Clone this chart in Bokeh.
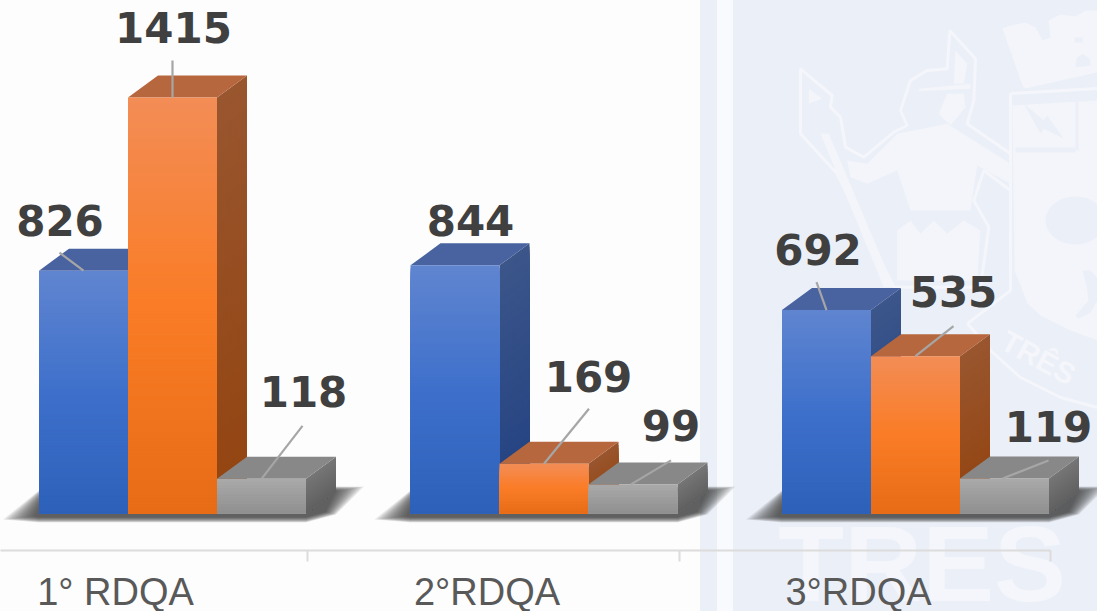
from urllib.parse import quote
from bokeh.embed import file_html
from bokeh.resources import INLINE
from bokeh.plotting import figure
from bokeh.models import Range1d, FixedTicker
from bokeh.core.properties import value

# ---------- data ----------
categories = ["1° RDQA", "2°RDQA", "3°RDQA"]
series_blue = [826, 844, 692]
series_orange = [1415, 169, 535]
series_grey = [118, 99, 119]

# ---------- layout (px) ----------
W, H = 1097, 611
FRAME_H = 550
BASE_PY = 513
PX_PER_UNIT = 0.294
GROUP_PX0 = 172
GROUP_STEP = 371.5
BAR_PX = 89
DEPTH_X, DEPTH_Y = 30, 22

def xd(px): return 1 + (px - GROUP_PX0) / GROUP_STEP
def yd(py): return (BASE_PY - py) / PX_PER_UNIT
def dxu(px): return px / GROUP_STEP
def dyu(px): return px / PX_PER_UNIT

BAND = "#ebeff7"
PAGE = "#fdfdfd"
WM = "#f3f5fa"
WM_LINE = "#f4f6fb"
# page background: pale bands, and the big watermark word that runs under the axis
wm_svg = (f'<svg xmlns="http://www.w3.org/2000/svg" width="{W}" height="{H}">'
          f'<text x="778" y="601" font-family="Liberation Sans" font-weight="bold" '
          f'font-size="108" fill="{WM_LINE}">TRES</text></svg>')
bg_css = (f"url(\"data:image/svg+xml,{quote(wm_svg)}\") no-repeat 0 0, "
          f"linear-gradient(to right, {PAGE} 0, {PAGE} 700px, {BAND} 700px, {BAND} 717px, "
          f"#f9fafd 717px, #f9fafd 733px, {BAND} 733px, {BAND} 100%)")

p = figure(width=W, height=H, frame_height=FRAME_H, frame_width=W,
           output_backend="svg", toolbar_location=None,
           x_range=Range1d(xd(0), xd(W)), y_range=Range1d(yd(FRAME_H), yd(0)),
           min_border=0, min_border_bottom=H - FRAME_H, tools="",
           styles={"background": bg_css})
p.grid.visible = False
p.yaxis.visible = False
p.outline_line_color = None
p.background_fill_color = None
p.border_fill_color = None

# ---------- watermark ----------
def wm_px(pts, fill=WM, line=None, lw=0):
    p.patch([xd(a) for a, b in pts], [yd(b) for a, b in pts],
            fill_color=fill, line_color=line, line_width=lw)
def wm_patch(pts, fill=WM, line=None, lw=0):
    # zoomed-crop coordinates: px = 680 + z/3, py = z/3
    wm_px([(680 + a / 3, b / 3) for a, b in pts], fill, line, lw)
def wm_line(pts, lw=3):
    p.line([xd(a) for a, b in pts], [yd(b) for a, b in pts], line_color=WM_LINE, line_width=lw)

warrior_outline = [(360,205),(455,285),(450,320),(480,350),(495,440),(550,470),(640,395),(680,375),
                   (660,330),(690,240),(740,210),(800,205),(808,90),(885,175),(880,300),(860,370),
                   (990,460),(990,570),(910,510),(880,600),(925,680),(900,860),(640,860),(600,780),
                   (470,520),(360,400)]
wm_patch(warrior_outline, fill=BAND, line=WM_LINE, lw=3)
wm_patch([(500,480),(560,490),(650,400),(800,370),(990,490),(990,550),(890,495),(870,630),(690,630),(650,510),(560,550),(510,530)])
wm_patch([(775,340),(800,280),(850,280),(855,320),(810,375)])
wm_patch([(715,265),(870,250),(870,265),(715,272)])
wm_patch([(825,150),(860,190),(850,250),(820,250)])
wm_patch([(385,265),(425,295),(385,310)])
wm_patch([(650,690),(690,660),(720,700),(760,660),(800,700),(850,660),(900,690),(890,840),(650,840)])
# spear shaft
wm_patch([(420,400),(445,400),(640,860),(610,860)])
# crown
wm_px([(1002,28),(1010,25),(1025,22),(1035,27),(1042,40),(1050,37),(1048,20),(1060,14),(1075,16),
       (1085,10),(1097,10),(1097,72),(1025,88),(1022,85)])
wm_px([(1075,67),(1076,58),(1082,53),(1089,58),(1090,65)], fill=BAND)
wm_px([(1074,37),(1082,37),(1082,42),(1074,42)], fill=BAND)
wm_px([(1020,95),(1097,80),(1097,90),(1020,100)], fill=BAND)
# shield
wm_px([(1012,105),(1097,100),(1097,340),(1070,330),(1040,315),(1027,303),(1014,270)])
wm_line([(1010,93),(1097,88)])
wm_line([(1010,93),(1010,290),(967,323)])
wm_line([(967,323),(990,350),(1020,377),(1060,397),(1097,407)])
wm_patch([(1030,310),(1090,360),(1100,345),(1150,415),(1090,385),(1080,400)], fill=BAND)
wm_px([(1015,147),(1075,147),(1075,152),(1015,152)], fill=BAND)
wm_px([(1075,100),(1078,100),(1078,150),(1075,150)], fill=BAND)
wm_px([(1082,270),(1090,270),(1097,278),(1097,300),(1090,312),(1078,318),(1075,315),(1088,300),(1086,285)], fill=BAND)
p.ellipse(x=[xd(680 + 1185 / 3)], y=[yd(660 / 3)], width=[dxu(60)], height=[dyu(48)],
          fill_color=BAND, line_color=None)
p.text(x=[xd(1003)], y=[yd(338)], text=["TRÊS"], angle=[-0.5],
       text_font=value("Liberation Sans"), text_font_style="bold", text_font_size="30px",
       text_color=WM_LINE, text_align="left", text_baseline="middle")

# ---------- helpers for bars ----------
def lerp(a, b, t): return [a[i] + (b[i] - a[i]) * t for i in range(3)]
def grad(stops, t):
    n = len(stops) - 1
    i = min(int(t * n), n - 1)
    c = lerp(stops[i], stops[i + 1], t * n - i)
    return "#%02x%02x%02x" % tuple(int(round(v)) for v in c)

STYLES = {
    "blue": dict(front=[(96,133,208),(62,112,203),(45,97,185)],
                 side=[(60,86,138),(34,65,129)], top="#48639f"),
    "orange": dict(front=[(243,141,86),(250,124,38),(231,108,21)],
                   side=[(153,86,47),(147,68,16)], top="#b7673d"),
    "grey": dict(front=[(170,170,170),(143,143,143)],
                 side=[(118,118,118),(96,96,96)], top="#888888"),
}

def draw_bar(cx, val, style):
    st = STYLES[style]
    half = dxu(BAR_PX) / 2
    ddx, ddy = dxu(DEPTH_X), dyu(DEPTH_Y)
    n = max(6, int(val * PX_PER_UNIT / 3))
    # side face: each slice runs down to the base, the next one paints over it
    xs, ys, cs = [], [], []
    for i in range(n):
        a = val * (1 - i / n)
        xs.append([cx + half, cx + half + ddx, cx + half + ddx, cx + half])
        ys.append([a, a + ddy, ddy, 0])
        cs.append(grad(st["side"], (i + .5) / n))
    p.patches(xs, ys, fill_color=cs, line_color=None)
    # top face
    p.patch([cx - half, cx - half + ddx, cx + half + ddx, cx + half],
            [val, val + ddy, val + ddy, val], fill_color=st["top"], line_color=None)
    # front face
    tops = [val * (1 - i / n) for i in range(n)]
    cols = [grad(st["front"], (i + .5) / n) for i in range(n)]
    p.quad(left=cx - half, right=cx + half, top=tops, bottom=0,
           fill_color=cols, line_color=None)

def draw_shadow(g):
    x0 = GROUP_PX0 + g * GROUP_STEP - 1.5 * BAR_PX
    x1 = GROUP_PX0 + g * GROUP_STEP + 1.5 * BAR_PX
    for k in range(14):
        t = k * 2
        pts = [(x0 - 36 + t * 1.2, 519 - t * .12), (x0 + t * .3, 490), (x1 + 30, 486 + t * .15),
               (x1 + 58 - t * 1.1, 486 + t * .2), (x1 + 30 - t * .4, 514 - t * .1),
               (x1, 522 - t * .2), (x0, 522 - t * .2)]
        p.patch([xd(a) for a, b in pts], [yd(b) for a, b in pts],
                fill_color="#303030", fill_alpha=0.09, line_color=None)

# ---------- bars ----------
series = [("blue", series_blue, -1), ("orange", series_orange, 0), ("grey", series_grey, 1)]
for g in range(len(categories)):
    draw_shadow(g)
for g in range(len(categories)):
    for style, vals, k in series:
        draw_bar(1 + g + k * dxu(BAR_PX), vals[g], style)

# ---------- data labels and leader lines ----------
bar_x, bar_v = [], []
for g in range(len(categories)):
    for style, vals, k in series:
        bar_x.append(1 + g + k * dxu(BAR_PX))
        bar_v.append(vals[g])

label_dx = [-23.5, 1, 42, 15.5, 44.5, 38, -8.5, 38, 44]
label_dy = [-50, -70, -87, -45, -87, -59, -61, -65, -52]
leader_start_dx = [0, 0, 0, None, 0, -2, 0, 0, -2]
leader_end_dx = [-24, 0, 41, None, 45, 38, -10, 38, 44]
leader_end_dy = [-18, -37, -53, None, -55, -24, -28, -30, -18]

for x, v, sx, ex, ey in zip(bar_x, bar_v, leader_start_dx, leader_end_dx, leader_end_dy):
    if ex is None:
        continue
    p.line([x + dxu(sx), x + dxu(ex)], [v, v + dyu(-ey)], line_color="#a6a6a6", line_width=2.2)

p.text(x=[x + dxu(d) for x, d in zip(bar_x, label_dx)],
       y=[v + dyu(-d) for v, d in zip(bar_v, label_dy)],
       text=[str(v) for v in bar_v],
       text_font=value("DejaVu Sans"), text_font_style="bold", text_font_size="42px",
       text_color="#404040", text_align="center", text_baseline="middle")

# ---------- x axis ----------
LABEL_SHIFT_PX = -57
major = [1 + g + dxu(LABEL_SHIFT_PX) for g in range(3)]
minor = [1 + g + dxu(135) for g in range(3)]
ax = p.xaxis[0]
ax.ticker = FixedTicker(ticks=major, minor_ticks=minor)
ax.major_label_overrides = dict(zip(major, categories))
ax.bounds = (xd(0), minor[-1])
ax.axis_line_color = "#dcdcdc"
ax.axis_line_width = 2
ax.major_tick_line_color = None
ax.major_tick_out = 0
ax.major_tick_in = 0
ax.minor_tick_line_color = "#dcdcdc"
ax.minor_tick_line_width = 2
ax.minor_tick_out = 11
ax.minor_tick_in = 0
ax.major_label_standoff = 9
ax.major_label_text_font = "Liberation Sans"
ax.major_label_text_font_size = "38px"
ax.major_label_text_color = "#595959"

open("out.html", "w").write(file_html(p, INLINE))
